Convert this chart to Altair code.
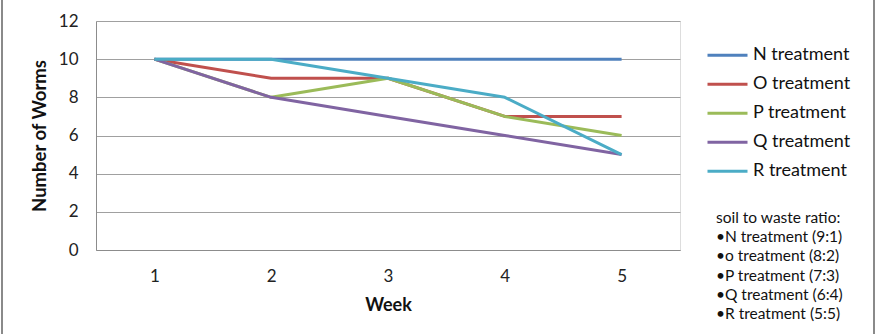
import altair as alt
import pandas as pd

weeks = [1, 2, 3, 4, 5]
series = ["N treatment", "O treatment", "P treatment", "Q treatment", "R treatment"]
n_vals = [10, 10, 10, 10, 10]
o_vals = [10, 9, 9, 7, 7]
p_vals = [10, 8, 9, 7, 6]
q_vals = [10, 8, 7, 6, 5]
r_vals = [10, 10, 9, 8, 5]
colors = ["#4F81BD", "#C0504D", "#9BBB59", "#8064A2", "#4BACC6"]
y_ticks = [0, 2, 4, 6, 8, 10, 12]
notes = ["soil to waste ratio:", "\u2022N treatment (9:1)", "\u2022o treatment (8:2)",
         "\u2022P treatment (7:3)", "\u2022Q treatment (6:4)", "\u2022R treatment (5:5)"]

rows = []
for name, vals in zip(series, [n_vals, o_vals, p_vals, q_vals, r_vals]):
    for w, v in zip(weeks, vals):
        rows.append({"Week": w, "Worms": v, "Series": name})
df = pd.DataFrame(rows)

FONT = "Lato"

lines = alt.Chart(df).mark_line(strokeWidth=3, strokeJoin="round").encode(
    x=alt.X("Week:O", title="Week",
            scale=alt.Scale(paddingInner=0, paddingOuter=0, align=0.5),
            axis=alt.Axis(labelAngle=0, ticks=False, grid=False, domainColor="#8c8c8c",
                          labelFontSize=17, labelPadding=18, titleFontSize=18,
                          titleFontWeight="bold", titlePadding=12, labelColor="#222",
                          titleColor="#111")),
    y=alt.Y("Worms:Q", title="Number of Worms",
            scale=alt.Scale(domain=[0, 12], nice=False),
            axis=alt.Axis(values=y_ticks, ticks=False, gridColor="#a0a0a0",
                          domainColor="#8c8c8c", labelFontSize=17, labelPadding=18,
                          titleFontSize=18.5, titleFontWeight="bold", titlePadding=9,
                          labelColor="#222", titleColor="#111")),
    color=alt.Color("Series:N", scale=alt.Scale(domain=series, range=colors),
                    legend=alt.Legend(title=None, orient="none", legendX=610, legendY=20,
                                      symbolType="stroke", symbolSize=1600,
                                      symbolStrokeWidth=3, labelFontSize=18,
                                      labelColor="#111", rowPadding=0, clipHeight=28.5,
                                      labelOffset=4)),
)

note_df = pd.DataFrame({"t": ["\n".join(notes)]})
note = alt.Chart(note_df).mark_text(align="left", baseline="top", fontSize=15.5,
                                    lineHeight=19.2, font=FONT, color="#111",
                                    lineBreak="\n").encode(
    x=alt.value(620), y=alt.value(190), text="t:N")

frame_df = pd.DataFrame({"k": [0]})
left_frame = alt.Chart(frame_df).mark_rule(color="#8a8a8a", strokeWidth=2).encode(
    x=alt.value(-94), y=alt.value(-21), y2=alt.value(313))
right_frame = alt.Chart(frame_df).mark_rule(color="#8a8a8a", strokeWidth=2).encode(
    x=alt.value(778), y=alt.value(-21), y2=alt.value(313))

chart = alt.layer(lines, note, left_frame, right_frame).properties(
    width=584, height=229,
    autosize=alt.AutoSizeParams(type="none"),
    padding={"left": 96, "top": 21, "right": 202, "bottom": 84},
    background="white",
).configure_view(stroke=None).configure(font=FONT)

chart.save("out.html", embed_options={"renderer": "svg", "actions": False})
